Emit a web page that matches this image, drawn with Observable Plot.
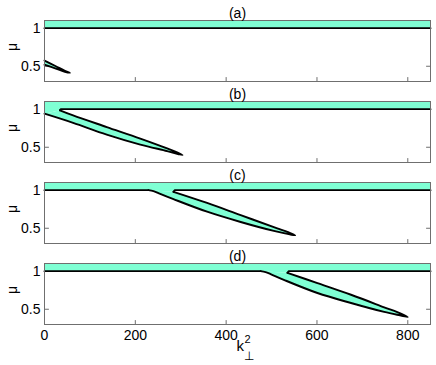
<!DOCTYPE html>
<html><head><meta charset="utf-8">
<script src="https://cdn.jsdelivr.net/npm/d3@7"></script>
<script src="https://cdn.jsdelivr.net/npm/@observablehq/plot@0.6"></script>
<style>
body{margin:0;background:#fff;}
#chart{width:436px;height:365px;}
#chart svg{display:block;}
</style></head><body><div id="chart"></div>
<script>
const panels = ["(a)", "(b)", "(c)", "(d)"];
const xTicks = [0, 200, 400, 600, 800];
const yTicks = [0.5, 1];
const kDomain = [0, 850];
const muDomain = [0.3, 1.1];

// (a)
const aLineK = 0;
const aUpperK = [0, 25, 45, 56];
const aUpperMu = [0.575, 0.50, 0.44, 0.414];
const aLowerK = [0, 25, 45, 56];
const aLowerMu = [0.52, 0.47, 0.428, 0.414];
// (b)
const bLineK = 36;
const bUpperK = [34, 63, 137, 211, 270, 292, 304];
const bUpperMu = [0.985, 0.918, 0.765, 0.614, 0.485, 0.432, 0.398];
const bLowerK = [0, 63, 137, 211, 270, 294, 304];
const bLowerMu = [0.94, 0.82, 0.666, 0.535, 0.45, 0.412, 0.398];
// (c)
const cLineK = 287;
const cUpperK = [284, 358, 432, 505, 538, 552];
const cUpperMu = [0.978, 0.832, 0.672, 0.515, 0.445, 0.408];
const cLowerK = [0, 229, 240, 252, 284, 358, 432, 505, 540, 552];
const cLowerMu = [1, 1, 0.988, 0.958, 0.882, 0.717, 0.582, 0.465, 0.42, 0.408];
// (d)
const dLineK = 538;
const dUpperK = [535, 601, 675, 748, 786, 800];
const dUpperMu = [0.978, 0.843, 0.69, 0.526, 0.44, 0.398];
const dLowerK = [0, 476, 487, 499, 527, 601, 675, 748, 787, 800];
const dLowerMu = [1, 1, 0.988, 0.958, 0.886, 0.713, 0.582, 0.465, 0.415, 0.398];

const lineKs = [aLineK, bLineK, cLineK, dLineK];
const uppers = [[aUpperK, aUpperMu], [bUpperK, bUpperMu], [cUpperK, cUpperMu], [dUpperK, dUpperMu]];
const lowers = [[aLowerK, aLowerMu], [bLowerK, bLowerMu], [cLowerK, cLowerMu], [dLowerK, dLowerMu]];

const aqua = "#7fffd4";
const gray = "#6f6f6f";
const font = "'Liberation Sans', Arial, Helvetica, sans-serif";
const tickShape = {draw(ctx, l) { ctx.moveTo(0, 0); ctx.lineTo(0, -l); }};

const pts = (K, M) => K.map((k, i) => ({k, mu: M[i]}));

function buildPanel(i) {
  const last = i === 3;
  const up = pts(...uppers[i]);
  const lo = pts(...lowers[i]);
  const lineK = lineKs[i];
  const top = muDomain[1], kEnd = kDomain[1];
  // flat (mu = 1) start of the lower edge, drawn straight
  let flatEnd = 0;
  lo.forEach((p, j) => { if (p.mu >= 1) flatEnd = j; });
  const flat = lo.slice(0, flatEnd + 1);
  // lobe: upper edge down to the tip, then curved lower edge back
  const lobe = [...up, ...lo.slice(flatEnd, -1).reverse()];
  const strokes = [];
  let band;
  if (up[0].k === 0) {
    band = [{k: 0, mu: 1}, {k: kEnd, mu: 1}, {k: kEnd, mu: top}, {k: 0, mu: top}];
    strokes.push([{k: 0, mu: 1}, {k: kEnd, mu: 1}]);
  } else {
    band = [{k: 0, mu: top}, {k: kEnd, mu: top}, {k: kEnd, mu: 1}, {k: lineK, mu: 1}, up[0], ...flat.slice().reverse()];
    strokes.push([{k: kEnd, mu: 1}, {k: lineK, mu: 1}, up[0]]);
    if (flat.length > 1) strokes.push(flat);
  }
  const lineStyle = {x: "k", y: "mu", stroke: "black", strokeWidth: 1.9, strokeLinejoin: "round", strokeLinecap: "round"};
  const marks = [
    Plot.vector(xTicks, {x: d => d, frameAnchor: "bottom", length: 4, rotate: 0, anchor: "start", shape: tickShape, stroke: gray, strokeWidth: 1}),
    Plot.vector(yTicks, {y: d => d, frameAnchor: "left", length: 4, rotate: 90, anchor: "start", shape: tickShape, stroke: gray, strokeWidth: 1}),
    Plot.vector(yTicks, {y: d => d, frameAnchor: "right", length: 4, rotate: -90, anchor: "start", shape: tickShape, stroke: gray, strokeWidth: 1}),
    Plot.line(band, {x: "k", y: "mu", fill: aqua, stroke: "none"}),
    Plot.line(lobe, {x: "k", y: "mu", fill: aqua, stroke: "none", curve: "catmull-rom"}),
    ...strokes.map(s => Plot.line(s, lineStyle)),
    Plot.line(lobe, {...lineStyle, curve: "catmull-rom"}),
    Plot.frame({stroke: gray, strokeWidth: 1}),
    Plot.axisY({ticks: yTicks, tickSize: 0, tickPadding: 4, label: null, tickFormat: d => String(d)}),
    Plot.text([panels[i]], {frameAnchor: "top", lineAnchor: "bottom", dy: -3, text: d => d, fontSize: 14}),
    Plot.text(["μ"], {frameAnchor: "left", dx: -32, rotate: -90, text: d => d, fontSize: 14})
  ];
  if (last) {
    marks.push(
      Plot.axisX({ticks: xTicks, tickSize: 0, tickPadding: 6, label: null}),
      Plot.text(["k"], {frameAnchor: "bottom", lineAnchor: "bottom", textAnchor: "start", dx: -1, dy: 26, text: d => d, fontSize: 15}),
      Plot.text(["2"], {frameAnchor: "bottom", lineAnchor: "bottom", textAnchor: "start", dx: 7, dy: 18, text: d => d, fontSize: 11}),
      Plot.text(["⊥"], {frameAnchor: "bottom", lineAnchor: "bottom", textAnchor: "start", dx: 6, dy: 35, text: d => d, fontSize: 12})
    );
  }
  return Plot.plot({
    width: 436,
    height: last ? 122 : 81,
    marginTop: 20,
    marginBottom: last ? 41 : 0,
    marginLeft: 44,
    marginRight: 6,
    x: {domain: kDomain, axis: null},
    y: {domain: muDomain, axis: null},
    style: {fontFamily: font, fontSize: "14px", background: "white", color: "black", overflow: "visible"},
    marks
  });
}

const chart = document.getElementById("chart");
panels.forEach((p, i) => chart.appendChild(buildPanel(i)));
</script>
</body></html>
